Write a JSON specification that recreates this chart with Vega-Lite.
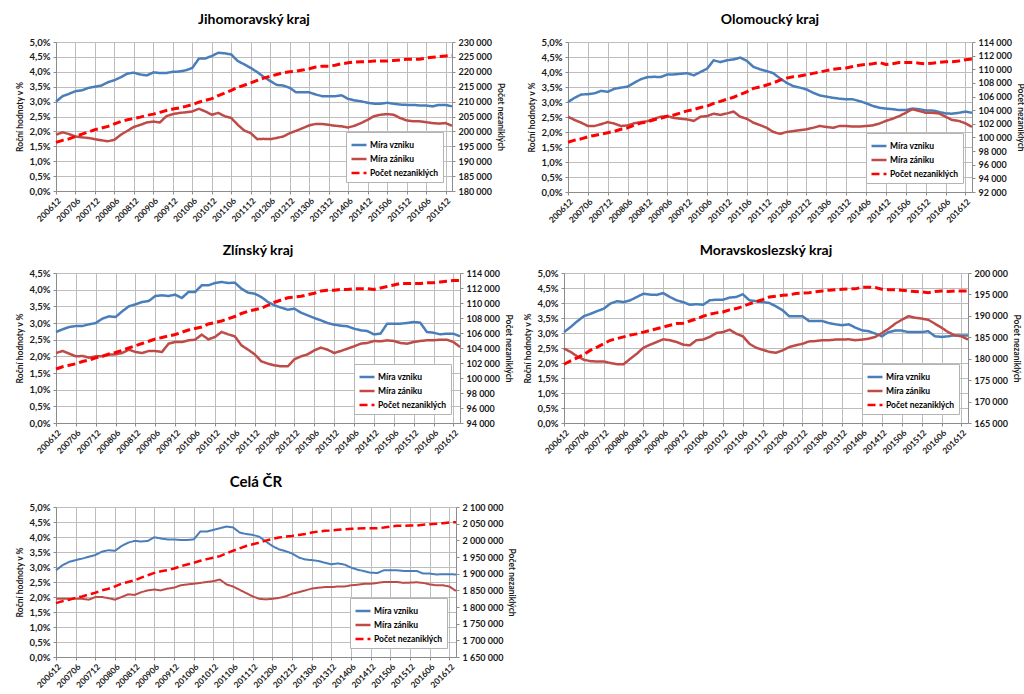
{
"$schema": "https://vega.github.io/schema/vega-lite/v6.json",
"padding": {"left": 15, "top": 13, "right": 0, "bottom": 0},
"background": "white",
"config": {
  "locale": {"number": {"decimal": ",", "thousands": " ", "grouping": [3], "currency": ["", " Kč"]}},
  "font": "Lato",
  "view": {"stroke": null},
  "axis": {"labelFont": "Lato", "labelFontSize": 9.5, "labelFontWeight": "bold", "labelColor": "#1a1a1a", "titleFont": "Lato", "titleFontSize": 8.5, "titleFontWeight": "bold", "titleColor": "#1a1a1a", "domainColor": "#8c8c8c", "tickColor": "#8c8c8c", "gridColor": "#bdbdbd", "tickSize": 3, "labelPadding": 3},
  "axisRight": {"labelFontSize": 9},
  "axisX": {"labelAngle": -45, "grid": true, "title": null, "labelFontSize": 8.5, "labelPadding": 2},
  "title": {"font": "Lato", "fontSize": 14, "fontWeight": "bold", "color": "#000000", "anchor": "middle", "offset": 10},
  "legend": {"orient": "bottom-right", "offset": 9, "symbolType": "stroke", "symbolSize": 225, "symbolStrokeWidth": 2.5, "labelFont": "Lato", "labelFontSize": 8.5, "labelFontWeight": "bold", "labelColor": "#000000", "fillColor": "#ffffff", "strokeColor": "#b4b4b4", "padding": 4, "rowPadding": 0, "labelOffset": 2}
},
"datasets": {
"jm": [
{"m":"200612","v":3.0,"z":1.89,"p":196300},{"m":"200702","v":3.18,"z":1.97,"p":197000},{"m":"200704","v":3.26,"z":1.91,"p":197500},{"m":"200706","v":3.35,"z":1.83,"p":198300},{"m":"200708","v":3.38,"z":1.8,"p":199100},{"m":"200710","v":3.46,"z":1.78,"p":199800},{"m":"200712","v":3.5,"z":1.74,"p":200600},{"m":"200802","v":3.54,"z":1.7,"p":201100},{"m":"200804","v":3.65,"z":1.67,"p":201700},{"m":"200806","v":3.72,"z":1.72,"p":202500},{"m":"200808","v":3.82,"z":1.89,"p":203300},{"m":"200810","v":3.94,"z":2.02,"p":203900},{"m":"200812","v":3.97,"z":2.15,"p":204300},{"m":"200902","v":3.91,"z":2.22,"p":204800},{"m":"200904","v":3.88,"z":2.3,"p":205400},{"m":"200906","v":3.98,"z":2.33,"p":205800},{"m":"200908","v":3.96,"z":2.3,"p":206400},{"m":"200910","v":3.96,"z":2.51,"p":207000},{"m":"200912","v":4.0,"z":2.58,"p":207500},{"m":"201002","v":4.01,"z":2.62,"p":207900},{"m":"201004","v":4.05,"z":2.64,"p":208400},{"m":"201006","v":4.13,"z":2.67,"p":209000},{"m":"201008","v":4.44,"z":2.76,"p":209800},{"m":"201010","v":4.45,"z":2.67,"p":210400},{"m":"201012","v":4.53,"z":2.56,"p":211000},{"m":"201102","v":4.64,"z":2.62,"p":212000},{"m":"201104","v":4.62,"z":2.51,"p":212900},{"m":"201106","v":4.58,"z":2.45,"p":213800},{"m":"201108","v":4.36,"z":2.22,"p":214800},{"m":"201110","v":4.25,"z":2.03,"p":215500},{"m":"201112","v":4.13,"z":1.94,"p":216300},{"m":"201202","v":3.99,"z":1.74,"p":217100},{"m":"201204","v":3.83,"z":1.75,"p":217900},{"m":"201206","v":3.69,"z":1.74,"p":218500},{"m":"201208","v":3.56,"z":1.78,"p":219100},{"m":"201210","v":3.54,"z":1.83,"p":219700},{"m":"201212","v":3.46,"z":1.94,"p":220000},{"m":"201302","v":3.31,"z":2.02,"p":220200},{"m":"201304","v":3.31,"z":2.11,"p":220600},{"m":"201306","v":3.31,"z":2.2,"p":221000},{"m":"201308","v":3.24,"z":2.25,"p":221600},{"m":"201310","v":3.18,"z":2.25,"p":221900},{"m":"201312","v":3.18,"z":2.22,"p":221900},{"m":"201402","v":3.18,"z":2.19,"p":222200},{"m":"201404","v":3.21,"z":2.17,"p":222700},{"m":"201406","v":3.09,"z":2.13,"p":223000},{"m":"201408","v":3.04,"z":2.19,"p":223300},{"m":"201410","v":3.01,"z":2.28,"p":223400},{"m":"201412","v":2.96,"z":2.39,"p":223400},{"m":"201502","v":2.93,"z":2.51,"p":223600},{"m":"201504","v":2.93,"z":2.56,"p":223600},{"m":"201506","v":2.96,"z":2.58,"p":223600},{"m":"201508","v":2.93,"z":2.56,"p":223800},{"m":"201510","v":2.9,"z":2.45,"p":224000},{"m":"201512","v":2.89,"z":2.37,"p":224200},{"m":"201602","v":2.89,"z":2.34,"p":224200},{"m":"201604","v":2.87,"z":2.34,"p":224200},{"m":"201606","v":2.87,"z":2.31,"p":224600},{"m":"201608","v":2.84,"z":2.28,"p":224900},{"m":"201610","v":2.89,"z":2.26,"p":225100},{"m":"201612","v":2.89,"z":2.28,"p":225300},{"m":"201702","v":2.84,"z":2.19,"p":225500}
],
"ol": [
{"m":"200612","v":3.0,"z":2.51,"p":99300},{"m":"200702","v":3.14,"z":2.4,"p":99600},{"m":"200704","v":3.25,"z":2.31,"p":99800},{"m":"200706","v":3.26,"z":2.2,"p":100100},{"m":"200708","v":3.29,"z":2.2,"p":100300},{"m":"200710","v":3.37,"z":2.26,"p":100500},{"m":"200712","v":3.34,"z":2.33,"p":100700},{"m":"200802","v":3.44,"z":2.28,"p":100900},{"m":"200804","v":3.48,"z":2.2,"p":101200},{"m":"200806","v":3.51,"z":2.22,"p":101400},{"m":"200808","v":3.64,"z":2.29,"p":101800},{"m":"200810","v":3.76,"z":2.33,"p":102100},{"m":"200812","v":3.83,"z":2.36,"p":102300},{"m":"200902","v":3.84,"z":2.44,"p":102600},{"m":"200904","v":3.83,"z":2.51,"p":102800},{"m":"200906","v":3.92,"z":2.53,"p":103100},{"m":"200908","v":3.92,"z":2.47,"p":103300},{"m":"200910","v":3.94,"z":2.44,"p":103600},{"m":"200912","v":3.96,"z":2.42,"p":103900},{"m":"201002","v":3.89,"z":2.37,"p":104100},{"m":"201004","v":4.0,"z":2.51,"p":104400},{"m":"201006","v":4.11,"z":2.53,"p":104600},{"m":"201008","v":4.39,"z":2.61,"p":105000},{"m":"201010","v":4.33,"z":2.57,"p":105300},{"m":"201012","v":4.39,"z":2.62,"p":105600},{"m":"201102","v":4.42,"z":2.68,"p":105900},{"m":"201104","v":4.48,"z":2.51,"p":106300},{"m":"201106","v":4.37,"z":2.44,"p":106700},{"m":"201108","v":4.17,"z":2.31,"p":107200},{"m":"201110","v":4.09,"z":2.23,"p":107400},{"m":"201112","v":4.03,"z":2.14,"p":107700},{"m":"201202","v":3.96,"z":2.0,"p":108000},{"m":"201204","v":3.79,"z":1.94,"p":108400},{"m":"201206","v":3.64,"z":2.0,"p":108700},{"m":"201208","v":3.53,"z":2.03,"p":108900},{"m":"201210","v":3.48,"z":2.06,"p":109000},{"m":"201212","v":3.42,"z":2.09,"p":109200},{"m":"201302","v":3.31,"z":2.14,"p":109400},{"m":"201304","v":3.22,"z":2.2,"p":109600},{"m":"201306","v":3.18,"z":2.17,"p":109800},{"m":"201308","v":3.14,"z":2.14,"p":110000},{"m":"201310","v":3.11,"z":2.2,"p":110100},{"m":"201312","v":3.09,"z":2.2,"p":110200},{"m":"201402","v":3.09,"z":2.18,"p":110400},{"m":"201404","v":3.03,"z":2.18,"p":110600},{"m":"201406","v":2.96,"z":2.2,"p":110700},{"m":"201408","v":2.87,"z":2.22,"p":110800},{"m":"201410","v":2.81,"z":2.28,"p":111000},{"m":"201412","v":2.78,"z":2.37,"p":110700},{"m":"201502","v":2.76,"z":2.44,"p":110800},{"m":"201504","v":2.73,"z":2.53,"p":111000},{"m":"201506","v":2.73,"z":2.64,"p":111000},{"m":"201508","v":2.78,"z":2.76,"p":111000},{"m":"201510","v":2.76,"z":2.7,"p":110900},{"m":"201512","v":2.72,"z":2.64,"p":110800},{"m":"201602","v":2.72,"z":2.64,"p":110900},{"m":"201604","v":2.67,"z":2.62,"p":111000},{"m":"201606","v":2.62,"z":2.51,"p":111100},{"m":"201608","v":2.61,"z":2.4,"p":111100},{"m":"201610","v":2.64,"z":2.37,"p":111200},{"m":"201612","v":2.68,"z":2.29,"p":111400},{"m":"201702","v":2.64,"z":2.17,"p":111500}
],
"zl": [
{"m":"200612","v":2.73,"z":2.1,"p":101200},{"m":"200702","v":2.81,"z":2.16,"p":101500},{"m":"200704","v":2.88,"z":2.08,"p":101700},{"m":"200706","v":2.91,"z":2.0,"p":101900},{"m":"200708","v":2.91,"z":2.01,"p":102200},{"m":"200710","v":2.96,"z":1.96,"p":102400},{"m":"200712","v":3.0,"z":2.0,"p":102700},{"m":"200802","v":3.13,"z":2.0,"p":102900},{"m":"200804","v":3.2,"z":2.05,"p":103200},{"m":"200806","v":3.18,"z":2.06,"p":103400},{"m":"200808","v":3.35,"z":2.1,"p":103700},{"m":"200810","v":3.5,"z":2.2,"p":104000},{"m":"200812","v":3.56,"z":2.13,"p":104300},{"m":"200902","v":3.63,"z":2.1,"p":104600},{"m":"200904","v":3.66,"z":2.16,"p":104900},{"m":"200906","v":3.81,"z":2.16,"p":105200},{"m":"200908","v":3.83,"z":2.13,"p":105400},{"m":"200910","v":3.81,"z":2.38,"p":105600},{"m":"200912","v":3.85,"z":2.43,"p":105800},{"m":"201002","v":3.75,"z":2.43,"p":106100},{"m":"201004","v":3.93,"z":2.48,"p":106400},{"m":"201006","v":3.93,"z":2.5,"p":106600},{"m":"201008","v":4.13,"z":2.65,"p":106800},{"m":"201010","v":4.13,"z":2.51,"p":107200},{"m":"201012","v":4.2,"z":2.58,"p":107400},{"m":"201102","v":4.23,"z":2.73,"p":107600},{"m":"201104","v":4.2,"z":2.66,"p":107900},{"m":"201106","v":4.21,"z":2.6,"p":108200},{"m":"201108","v":4.03,"z":2.33,"p":108600},{"m":"201110","v":3.91,"z":2.2,"p":108900},{"m":"201112","v":3.88,"z":2.06,"p":109100},{"m":"201202","v":3.78,"z":1.85,"p":109300},{"m":"201204","v":3.63,"z":1.78,"p":109700},{"m":"201206","v":3.53,"z":1.73,"p":110100},{"m":"201208","v":3.46,"z":1.7,"p":110400},{"m":"201210","v":3.4,"z":1.7,"p":110700},{"m":"201212","v":3.43,"z":1.91,"p":110800},{"m":"201302","v":3.31,"z":2.0,"p":110900},{"m":"201304","v":3.23,"z":2.06,"p":111100},{"m":"201306","v":3.15,"z":2.18,"p":111300},{"m":"201308","v":3.08,"z":2.26,"p":111600},{"m":"201310","v":3.0,"z":2.2,"p":111700},{"m":"201312","v":2.95,"z":2.1,"p":111700},{"m":"201402","v":2.92,"z":2.16,"p":111800},{"m":"201404","v":2.9,"z":2.23,"p":111800},{"m":"201406","v":2.83,"z":2.3,"p":111900},{"m":"201408","v":2.78,"z":2.38,"p":111900},{"m":"201410","v":2.76,"z":2.4,"p":111900},{"m":"201412","v":2.66,"z":2.46,"p":111800},{"m":"201502","v":2.68,"z":2.45,"p":112000},{"m":"201504","v":2.98,"z":2.48,"p":112200},{"m":"201506","v":2.98,"z":2.46,"p":112400},{"m":"201508","v":2.98,"z":2.4,"p":112600},{"m":"201510","v":3.0,"z":2.38,"p":112600},{"m":"201512","v":3.03,"z":2.43,"p":112600},{"m":"201602","v":3.01,"z":2.46,"p":112600},{"m":"201604","v":2.73,"z":2.48,"p":112700},{"m":"201606","v":2.71,"z":2.48,"p":112700},{"m":"201608","v":2.66,"z":2.5,"p":112800},{"m":"201610","v":2.68,"z":2.5,"p":112900},{"m":"201612","v":2.68,"z":2.43,"p":113000},{"m":"201702","v":2.6,"z":2.28,"p":113000}
],
"ms": [
{"m":"200612","v":3.03,"z":2.48,"p":178700},{"m":"200702","v":3.2,"z":2.37,"p":179500},{"m":"200704","v":3.39,"z":2.22,"p":180200},{"m":"200706","v":3.56,"z":2.11,"p":181000},{"m":"200708","v":3.64,"z":2.06,"p":182000},{"m":"200710","v":3.73,"z":2.05,"p":182700},{"m":"200712","v":3.81,"z":2.05,"p":183500},{"m":"200802","v":3.98,"z":2.0,"p":184300},{"m":"200804","v":4.06,"z":1.96,"p":184700},{"m":"200806","v":4.03,"z":1.96,"p":185100},{"m":"200808","v":4.09,"z":2.14,"p":185500},{"m":"200810","v":4.2,"z":2.31,"p":185800},{"m":"200812","v":4.31,"z":2.51,"p":186200},{"m":"200902","v":4.28,"z":2.61,"p":186600},{"m":"200904","v":4.27,"z":2.7,"p":187000},{"m":"200906","v":4.33,"z":2.79,"p":187400},{"m":"200908","v":4.2,"z":2.76,"p":187800},{"m":"200910","v":4.09,"z":2.7,"p":188200},{"m":"200912","v":4.03,"z":2.61,"p":188300},{"m":"201002","v":3.94,"z":2.59,"p":188800},{"m":"201004","v":3.96,"z":2.76,"p":189300},{"m":"201006","v":3.94,"z":2.78,"p":189900},{"m":"201008","v":4.09,"z":2.87,"p":190400},{"m":"201010","v":4.11,"z":3.0,"p":190700},{"m":"201012","v":4.11,"z":3.03,"p":190900},{"m":"201102","v":4.18,"z":3.11,"p":191400},{"m":"201104","v":4.2,"z":2.98,"p":191700},{"m":"201106","v":4.29,"z":2.89,"p":192200},{"m":"201108","v":4.09,"z":2.64,"p":192800},{"m":"201110","v":4.06,"z":2.51,"p":193300},{"m":"201112","v":4.03,"z":2.44,"p":193800},{"m":"201202","v":4.0,"z":2.37,"p":194400},{"m":"201204","v":3.89,"z":2.34,"p":194600},{"m":"201206","v":3.76,"z":2.42,"p":194800},{"m":"201208","v":3.56,"z":2.53,"p":194900},{"m":"201210","v":3.56,"z":2.59,"p":195200},{"m":"201212","v":3.56,"z":2.64,"p":195300},{"m":"201302","v":3.4,"z":2.72,"p":195400},{"m":"201304","v":3.4,"z":2.73,"p":195600},{"m":"201306","v":3.4,"z":2.76,"p":195800},{"m":"201308","v":3.33,"z":2.76,"p":196000},{"m":"201310","v":3.29,"z":2.78,"p":196100},{"m":"201312","v":3.26,"z":2.78,"p":196200},{"m":"201402","v":3.29,"z":2.79,"p":196300},{"m":"201404","v":3.18,"z":2.76,"p":196300},{"m":"201406","v":3.09,"z":2.78,"p":196700},{"m":"201408","v":3.06,"z":2.81,"p":196700},{"m":"201410","v":2.98,"z":2.87,"p":196600},{"m":"201412","v":2.89,"z":3.0,"p":196200},{"m":"201502","v":3.03,"z":3.14,"p":196100},{"m":"201504","v":3.08,"z":3.31,"p":196100},{"m":"201506","v":3.08,"z":3.44,"p":196000},{"m":"201508","v":3.03,"z":3.56,"p":195800},{"m":"201510","v":3.03,"z":3.51,"p":195700},{"m":"201512","v":3.03,"z":3.48,"p":195600},{"m":"201602","v":3.06,"z":3.44,"p":195400},{"m":"201604","v":2.89,"z":3.31,"p":195700},{"m":"201606","v":2.87,"z":3.18,"p":195800},{"m":"201608","v":2.89,"z":3.03,"p":195700},{"m":"201610","v":2.92,"z":2.92,"p":195800},{"m":"201612","v":2.92,"z":2.89,"p":195800},{"m":"201702","v":2.92,"z":2.78,"p":195800}
],
"cr": [
{"m":"200612","v":2.89,"z":1.94,"p":1811500},{"m":"200702","v":3.06,"z":1.94,"p":1817500},{"m":"200704","v":3.17,"z":1.94,"p":1821500},{"m":"200706","v":3.23,"z":1.94,"p":1827600},{"m":"200708","v":3.28,"z":1.94,"p":1831600},{"m":"200710","v":3.34,"z":1.91,"p":1837700},{"m":"200712","v":3.4,"z":2.0,"p":1842700},{"m":"200802","v":3.51,"z":2.0,"p":1849800},{"m":"200804","v":3.56,"z":1.96,"p":1854800},{"m":"200806","v":3.54,"z":1.91,"p":1861900},{"m":"200808","v":3.7,"z":2.0,"p":1870000},{"m":"200810","v":3.81,"z":2.09,"p":1875000},{"m":"200812","v":3.87,"z":2.07,"p":1880100},{"m":"200902","v":3.85,"z":2.16,"p":1888100},{"m":"200904","v":3.87,"z":2.22,"p":1895200},{"m":"200906","v":3.99,"z":2.25,"p":1902300},{"m":"200908","v":3.95,"z":2.22,"p":1907300},{"m":"200910","v":3.92,"z":2.28,"p":1910300},{"m":"200912","v":3.92,"z":2.31,"p":1915400},{"m":"201002","v":3.9,"z":2.39,"p":1922400},{"m":"201004","v":3.9,"z":2.42,"p":1927500},{"m":"201006","v":3.92,"z":2.44,"p":1932500},{"m":"201008","v":4.18,"z":2.47,"p":1938600},{"m":"201010","v":4.18,"z":2.5,"p":1943600},{"m":"201012","v":4.24,"z":2.53,"p":1947700},{"m":"201102","v":4.29,"z":2.58,"p":1952700},{"m":"201104","v":4.35,"z":2.42,"p":1960800},{"m":"201106","v":4.32,"z":2.35,"p":1968900},{"m":"201108","v":4.15,"z":2.24,"p":1975900},{"m":"201110","v":4.1,"z":2.13,"p":1983000},{"m":"201112","v":4.07,"z":2.02,"p":1988000},{"m":"201202","v":4.01,"z":1.94,"p":1993100},{"m":"201204","v":3.85,"z":1.92,"p":1999100},{"m":"201206","v":3.7,"z":1.94,"p":2004200},{"m":"201208","v":3.59,"z":1.97,"p":2008200},{"m":"201210","v":3.53,"z":2.02,"p":2011200},{"m":"201212","v":3.45,"z":2.11,"p":2013300},{"m":"201302","v":3.32,"z":2.16,"p":2016300},{"m":"201304","v":3.25,"z":2.22,"p":2019300},{"m":"201306","v":3.23,"z":2.28,"p":2023400},{"m":"201308","v":3.2,"z":2.31,"p":2026400},{"m":"201310","v":3.14,"z":2.33,"p":2028400},{"m":"201312","v":3.09,"z":2.33,"p":2029400},{"m":"201402","v":3.12,"z":2.35,"p":2031400},{"m":"201404","v":3.08,"z":2.35,"p":2033400},{"m":"201406","v":2.98,"z":2.39,"p":2034500},{"m":"201408","v":2.91,"z":2.41,"p":2035500},{"m":"201410","v":2.86,"z":2.44,"p":2036500},{"m":"201412","v":2.81,"z":2.44,"p":2036500},{"m":"201502","v":2.8,"z":2.47,"p":2036500},{"m":"201504","v":2.89,"z":2.5,"p":2038500},{"m":"201506","v":2.89,"z":2.5,"p":2041500},{"m":"201508","v":2.89,"z":2.5,"p":2043500},{"m":"201510","v":2.87,"z":2.47,"p":2043500},{"m":"201512","v":2.87,"z":2.48,"p":2044600},{"m":"201602","v":2.87,"z":2.49,"p":2044600},{"m":"201604","v":2.78,"z":2.47,"p":2046600},{"m":"201606","v":2.78,"z":2.42,"p":2048600},{"m":"201608","v":2.75,"z":2.39,"p":2049600},{"m":"201610","v":2.76,"z":2.39,"p":2051600},{"m":"201612","v":2.76,"z":2.35,"p":2053600},{"m":"201702","v":2.75,"z":2.2,"p":2054600}
]
},
"spacing": 20,
"resolve": {"scale": {"color": "independent", "strokeDash": "independent"}},
"vconcat": [
{
"spacing": 22,
"resolve": {"scale": {"color": "independent", "strokeDash": "independent"}},
"hconcat": [
{
  "title": "Jihomoravský kraj",
  "width": 396, "height": 149,
  "data": {"name": "jm"},
  "encoding": {"x": {"field": "m", "type": "ordinal", "scale": {"type": "point", "padding": 0}, "axis": {"values": ["200612","200706","200712","200806","200812","200906","200912","201006","201012","201106","201112","201206","201212","201306","201312","201406","201412","201506","201512","201606","201612"]}}},
  "layer": [
    {"layer": [
      {"mark": {"type": "line", "strokeWidth": 2.5}, "encoding": {"y": {"field": "v", "type": "quantitative", "scale": {"domain": [0, 5], "nice": false}, "axis": {"title": "Roční hodnoty v %", "values": [0,0.5,1,1.5,2,2.5,3,3.5,4,4.5,5], "format": ".1f", "labelExpr": "datum.label + '%'"}}, "color": {"datum": "Míra vzniku", "scale": {"domain": ["Míra vzniku","Míra zániku","Počet nezaniklých"], "range": ["#4a7ebb","#be4b48","#ff0000"]}, "legend": {"title": null}}, "strokeDash": {"datum": "Míra vzniku", "scale": {"domain": ["Míra vzniku","Míra zániku","Počet nezaniklých"], "range": [[1,0],[1,0],[8,4]]}, "legend": {"title": null}}}},
      {"mark": {"type": "line", "strokeWidth": 2.5}, "encoding": {"y": {"field": "z", "type": "quantitative", "scale": {"domain": [0, 5], "nice": false}, "axis": {"title": "Roční hodnoty v %", "values": [0,0.5,1,1.5,2,2.5,3,3.5,4,4.5,5], "format": ".1f", "labelExpr": "datum.label + '%'"}}, "color": {"datum": "Míra zániku"}, "strokeDash": {"datum": "Míra zániku"}}}
    ]},
    {"mark": {"type": "line", "strokeWidth": 3}, "encoding": {"y": {"field": "p", "type": "quantitative", "scale": {"domain": [180000, 230000], "nice": false, "zero": false}, "axis": {"orient": "right", "title": "Počet nezaniklých", "grid": false, "format": ",d", "values": [180000,185000,190000,195000,200000,205000,210000,215000,220000,225000,230000]}}, "color": {"datum": "Počet nezaniklých"}, "strokeDash": {"datum": "Počet nezaniklých"}}}
  ],
  "resolve": {"scale": {"y": "independent"}}
},
{
  "title": "Olomoucký kraj",
  "width": 404, "height": 150,
  "data": {"name": "ol"},
  "encoding": {"x": {"field": "m", "type": "ordinal", "scale": {"type": "point", "padding": 0}, "axis": {"values": ["200612","200706","200712","200806","200812","200906","200912","201006","201012","201106","201112","201206","201212","201306","201312","201406","201412","201506","201512","201606","201612"]}}},
  "layer": [
    {"layer": [
      {"mark": {"type": "line", "strokeWidth": 2.5}, "encoding": {"y": {"field": "v", "type": "quantitative", "scale": {"domain": [0, 5], "nice": false}, "axis": {"title": "Roční hodnoty v %", "values": [0,0.5,1,1.5,2,2.5,3,3.5,4,4.5,5], "format": ".1f", "labelExpr": "datum.label + '%'"}}, "color": {"datum": "Míra vzniku", "scale": {"domain": ["Míra vzniku","Míra zániku","Počet nezaniklých"], "range": ["#4a7ebb","#be4b48","#ff0000"]}, "legend": {"title": null}}, "strokeDash": {"datum": "Míra vzniku", "scale": {"domain": ["Míra vzniku","Míra zániku","Počet nezaniklých"], "range": [[1,0],[1,0],[8,4]]}, "legend": {"title": null}}}},
      {"mark": {"type": "line", "strokeWidth": 2.5}, "encoding": {"y": {"field": "z", "type": "quantitative", "scale": {"domain": [0, 5], "nice": false}, "axis": {"title": "Roční hodnoty v %", "values": [0,0.5,1,1.5,2,2.5,3,3.5,4,4.5,5], "format": ".1f", "labelExpr": "datum.label + '%'"}}, "color": {"datum": "Míra zániku"}, "strokeDash": {"datum": "Míra zániku"}}}
    ]},
    {"mark": {"type": "line", "strokeWidth": 3}, "encoding": {"y": {"field": "p", "type": "quantitative", "scale": {"domain": [92000, 114000], "nice": false, "zero": false}, "axis": {"orient": "right", "title": "Počet nezaniklých", "grid": false, "format": ",d", "values": [92000,94000,96000,98000,100000,102000,104000,106000,108000,110000,112000,114000]}}, "color": {"datum": "Počet nezaniklých"}, "strokeDash": {"datum": "Počet nezaniklých"}}}
  ],
  "resolve": {"scale": {"y": "independent"}}
}
]
},
{
"spacing": 10,
"resolve": {"scale": {"color": "independent", "strokeDash": "independent"}},
"hconcat": [
{
  "title": "Zlínský kraj",
  "width": 404, "height": 150,
  "data": {"name": "zl"},
  "encoding": {"x": {"field": "m", "type": "ordinal", "scale": {"type": "point", "padding": 0}, "axis": {"values": ["200612","200706","200712","200806","200812","200906","200912","201006","201012","201106","201112","201206","201212","201306","201312","201406","201412","201506","201512","201606","201612"]}}},
  "layer": [
    {"layer": [
      {"mark": {"type": "line", "strokeWidth": 2.5}, "encoding": {"y": {"field": "v", "type": "quantitative", "scale": {"domain": [0, 4.5], "nice": false}, "axis": {"title": "Roční hodnoty v %", "values": [0,0.5,1,1.5,2,2.5,3,3.5,4,4.5], "format": ".1f", "labelExpr": "datum.label + '%'"}}, "color": {"datum": "Míra vzniku", "scale": {"domain": ["Míra vzniku","Míra zániku","Počet nezaniklých"], "range": ["#4a7ebb","#be4b48","#ff0000"]}, "legend": {"title": null}}, "strokeDash": {"datum": "Míra vzniku", "scale": {"domain": ["Míra vzniku","Míra zániku","Počet nezaniklých"], "range": [[1,0],[1,0],[8,4]]}, "legend": {"title": null}}}},
      {"mark": {"type": "line", "strokeWidth": 2.5}, "encoding": {"y": {"field": "z", "type": "quantitative", "scale": {"domain": [0, 4.5], "nice": false}, "axis": {"title": "Roční hodnoty v %", "values": [0,0.5,1,1.5,2,2.5,3,3.5,4,4.5], "format": ".1f", "labelExpr": "datum.label + '%'"}}, "color": {"datum": "Míra zániku"}, "strokeDash": {"datum": "Míra zániku"}}}
    ]},
    {"mark": {"type": "line", "strokeWidth": 3}, "encoding": {"y": {"field": "p", "type": "quantitative", "scale": {"domain": [94000, 114000], "nice": false, "zero": false}, "axis": {"orient": "right", "title": "Počet nezaniklých", "grid": false, "format": ",d", "values": [94000,96000,98000,100000,102000,104000,106000,108000,110000,112000,114000]}}, "color": {"datum": "Počet nezaniklých"}, "strokeDash": {"datum": "Počet nezaniklých"}}}
  ],
  "resolve": {"scale": {"y": "independent"}}
},
{
  "title": "Moravskoslezský kraj",
  "width": 404, "height": 150,
  "data": {"name": "ms"},
  "encoding": {"x": {"field": "m", "type": "ordinal", "scale": {"type": "point", "padding": 0}, "axis": {"values": ["200612","200706","200712","200806","200812","200906","200912","201006","201012","201106","201112","201206","201212","201306","201312","201406","201412","201506","201512","201606","201612"]}}},
  "layer": [
    {"layer": [
      {"mark": {"type": "line", "strokeWidth": 2.5}, "encoding": {"y": {"field": "v", "type": "quantitative", "scale": {"domain": [0, 5], "nice": false}, "axis": {"title": "Roční hodnoty v %", "values": [0,0.5,1,1.5,2,2.5,3,3.5,4,4.5,5], "format": ".1f", "labelExpr": "datum.label + '%'"}}, "color": {"datum": "Míra vzniku", "scale": {"domain": ["Míra vzniku","Míra zániku","Počet nezaniklých"], "range": ["#4a7ebb","#be4b48","#ff0000"]}, "legend": {"title": null}}, "strokeDash": {"datum": "Míra vzniku", "scale": {"domain": ["Míra vzniku","Míra zániku","Počet nezaniklých"], "range": [[1,0],[1,0],[8,4]]}, "legend": {"title": null}}}},
      {"mark": {"type": "line", "strokeWidth": 2.5}, "encoding": {"y": {"field": "z", "type": "quantitative", "scale": {"domain": [0, 5], "nice": false}, "axis": {"title": "Roční hodnoty v %", "values": [0,0.5,1,1.5,2,2.5,3,3.5,4,4.5,5], "format": ".1f", "labelExpr": "datum.label + '%'"}}, "color": {"datum": "Míra zániku"}, "strokeDash": {"datum": "Míra zániku"}}}
    ]},
    {"mark": {"type": "line", "strokeWidth": 3}, "encoding": {"y": {"field": "p", "type": "quantitative", "scale": {"domain": [165000, 200000], "nice": false, "zero": false}, "axis": {"orient": "right", "title": "Počet nezaniklých", "grid": false, "format": ",d", "values": [165000,170000,175000,180000,185000,190000,195000,200000]}}, "color": {"datum": "Počet nezaniklých"}, "strokeDash": {"datum": "Počet nezaniklých"}}}
  ],
  "resolve": {"scale": {"y": "independent"}}
}
]
},
{
  "title": {"text": "Celá ČR", "fontSize": 15, "offset": 12},
  "width": 400, "height": 150,
  "data": {"name": "cr"},
  "encoding": {"x": {"field": "m", "type": "ordinal", "scale": {"type": "point", "padding": 0}, "axis": {"values": ["200612","200706","200712","200806","200812","200906","200912","201006","201012","201106","201112","201206","201212","201306","201312","201406","201412","201506","201512","201606","201612"]}}},
  "layer": [
    {"layer": [
      {"mark": {"type": "line", "strokeWidth": 2}, "encoding": {"y": {"field": "v", "type": "quantitative", "scale": {"domain": [0, 5], "nice": false}, "axis": {"title": "Roční hodnoty v %", "values": [0,0.5,1,1.5,2,2.5,3,3.5,4,4.5,5], "format": ".1f", "labelExpr": "datum.label + '%'"}}, "color": {"datum": "Míra vzniku", "scale": {"domain": ["Míra vzniku","Míra zániku","Počet nezaniklých"], "range": ["#4a7ebb","#be4b48","#ff0000"]}, "legend": {"title": null}}, "strokeDash": {"datum": "Míra vzniku", "scale": {"domain": ["Míra vzniku","Míra zániku","Počet nezaniklých"], "range": [[1,0],[1,0],[8,4]]}, "legend": {"title": null}}}},
      {"mark": {"type": "line", "strokeWidth": 2}, "encoding": {"y": {"field": "z", "type": "quantitative", "scale": {"domain": [0, 5], "nice": false}, "axis": {"title": "Roční hodnoty v %", "values": [0,0.5,1,1.5,2,2.5,3,3.5,4,4.5,5], "format": ".1f", "labelExpr": "datum.label + '%'"}}, "color": {"datum": "Míra zániku"}, "strokeDash": {"datum": "Míra zániku"}}}
    ]},
    {"mark": {"type": "line", "strokeWidth": 2.5}, "encoding": {"y": {"field": "p", "type": "quantitative", "scale": {"domain": [1650000, 2100000], "nice": false, "zero": false}, "axis": {"orient": "right", "title": "Počet nezaniklých", "grid": false, "format": ",d", "values": [1650000,1700000,1750000,1800000,1850000,1900000,1950000,2000000,2050000,2100000]}}, "color": {"datum": "Počet nezaniklých"}, "strokeDash": {"datum": "Počet nezaniklých"}}}
  ],
  "resolve": {"scale": {"y": "independent"}}
}
]
}
